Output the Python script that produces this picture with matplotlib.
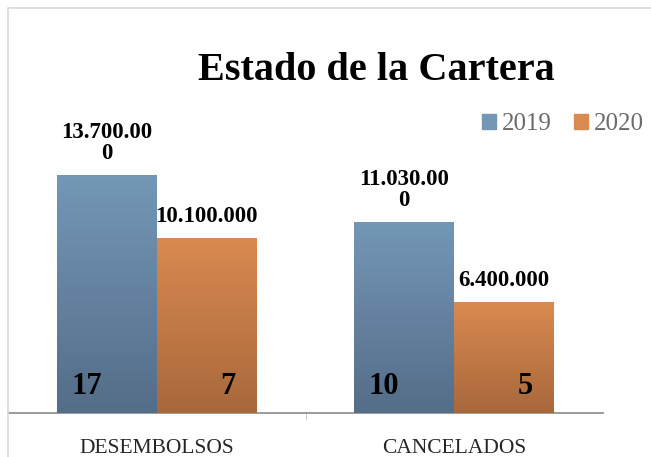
import matplotlib
matplotlib.use("Agg")
import matplotlib.pyplot as plt
import numpy as np
from matplotlib.colors import LinearSegmentedColormap
from matplotlib.patches import Patch, Rectangle

# data
categories = ["DESEMBOLSOS", "CANCELADOS"]
years = ["2019", "2020"]
amount_2019 = [13700000, 11030000]
amount_2020 = [10100000, 6400000]
labels_2019 = ["13.700.00\n0", "11.030.00\n0"]
labels_2020 = ["10.100.000", "6.400.000"]
count_2019 = [17, 10]
count_2020 = [7, 5]

serif = ["Liberation Serif", "DejaVu Serif"]
blue_top, blue_bot = "#7497b6", "#546d88"
orange_top, orange_bot = "#d98a50", "#a8683c"

fig = plt.figure(figsize=(6.51, 4.57), dpi=100)
ax = fig.add_axes([8/651, 44/457, 595/651, 353/457])

x = np.arange(len(categories))
w = 0.336

def grad_bars(xpos, vals, ctop, cbot):
    bars = ax.bar(xpos, vals, w, color=ctop, zorder=2)
    cmap = LinearSegmentedColormap.from_list("g", [cbot, ctop])
    g = np.linspace(0, 1, 256).reshape(-1, 1)
    for b in bars:
        x0, y0 = b.get_x(), b.get_y()
        im = ax.imshow(g, cmap=cmap, origin="lower", aspect="auto", zorder=3,
                       extent=[x0, x0 + b.get_width(), y0, y0 + b.get_height()])
        im.set_clip_path(b)
    return bars

b19 = grad_bars(x - w/2, amount_2019, blue_top, blue_bot)
b20 = grad_bars(x + w/2, amount_2020, orange_top, orange_bot)

ax.set_xlim(-0.5, 1.5)
ax.set_ylim(0, 20.35e6)

# value labels above bars
for b, t in zip(b19, labels_2019):
    ax.annotate(t, (b.get_x() + b.get_width()/2, b.get_height()), xytext=(0, 8),
                textcoords="offset points", ha="center", va="bottom",
                fontsize=16.5, fontweight="bold", family=serif, linespacing=1.0)
for b, t in zip(b20, labels_2020):
    ax.annotate(t, (b.get_x() + b.get_width()/2, b.get_height()), xytext=(0, 8),
                textcoords="offset points", ha="center", va="bottom",
                fontsize=16.5, fontweight="bold", family=serif)

# counts inside bars
for i in range(len(categories)):
    ax.text(x[i] - w/2 - 0.068, 1.5e6, str(count_2019[i]), ha="center", va="center",
            fontsize=22, fontweight="bold", family=serif, zorder=5)
    ax.text(x[i] + w/2 + 0.072, 1.5e6, str(count_2020[i]), ha="center", va="center",
            fontsize=22, fontweight="bold", family=serif, zorder=5)

for s in ["top", "right", "left"]:
    ax.spines[s].set_visible(False)
ax.spines["bottom"].set_color("#8a8a8a")
ax.spines["bottom"].set_linewidth(1.2)
ax.set_yticks([])
ax.set_xticks(x)
ax.set_xticklabels(categories, fontsize=15.5, family=serif, color="#262626")
ax.tick_params(axis="x", length=0, pad=19)
ax.set_xticks([0.5], minor=True)
ax.tick_params(axis="x", which="minor", length=5, color="#bfbfbf")

fig.text(376/651, 1 - 70/457, "Estado de la Cartera", ha="center", va="center",
         fontsize=29, fontweight="bold", family=serif)

handles = [Patch(color=blue_top), Patch(color=orange_top)]
fig.legend(handles, years, loc="center", bbox_to_anchor=(563/651, 1 - 124/457), ncol=2,
           frameon=False, handlelength=0.56, handleheight=0.56, handletextpad=0.24,
           columnspacing=0.9, borderpad=0, prop={"family": serif, "size": 18},
           labelcolor="#6b6b6b")

fig.patches.append(Rectangle((8/651, -0.1), 1.2, 1 - 8/457 + 0.1, transform=fig.transFigure,
                             fill=False, edgecolor="#d9d9d9", lw=1.2, zorder=0))

fig.savefig("out.png", dpi=100)
